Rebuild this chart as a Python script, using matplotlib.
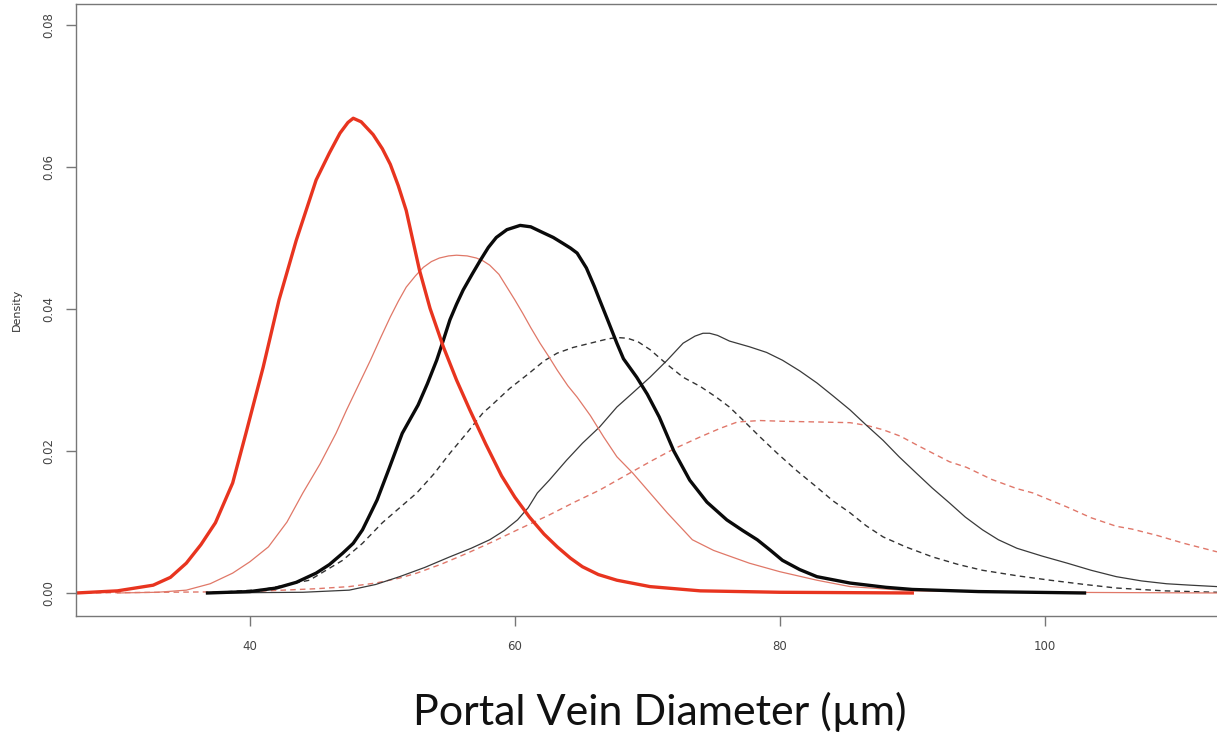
import numpy as np
import matplotlib.pyplot as plt

# Density curves (x in um, y density)
red_thick_x = [26.9, 30.0, 32.7, 34.0, 35.2, 36.3, 37.4, 38.7, 39.7, 41.0, 42.2, 43.5, 45.0,
               46.0, 46.8, 47.4, 47.8, 48.4, 49.3, 50.0, 50.6, 51.2, 51.8, 52.8, 53.6, 54.6,
               55.6, 56.6, 57.8, 59.0, 60.0, 61.1, 62.2, 63.2, 64.2, 65.1, 66.3, 67.7, 70.2,
               74.0, 80.0, 90.0]
red_thick_y = [0.0, 0.0003, 0.0011, 0.0022, 0.0042, 0.0068, 0.0099, 0.0155, 0.0225, 0.0318,
               0.0413, 0.0497, 0.0582, 0.0620, 0.0648, 0.0663, 0.0669, 0.0664, 0.0646, 0.0626,
               0.0604, 0.0574, 0.0539, 0.0455, 0.0401, 0.0347, 0.0300, 0.0258, 0.0210, 0.0165,
               0.0135, 0.0107, 0.0083, 0.0065, 0.0049, 0.0037, 0.0026, 0.0018, 0.0009, 0.0003,
               0.0001, 0.0]

red_thin_x = [30.0, 33.0, 35.2, 37.0, 38.7, 40.0, 41.4, 42.8, 44.0, 45.3, 46.5, 47.3, 48.2,
              49.1, 49.9, 50.6, 51.2, 51.8, 52.5, 53.1, 53.7, 54.3, 55.0, 55.6, 56.4, 57.1,
              57.6, 58.1, 58.8, 59.4, 60.0, 60.6, 61.2, 61.9, 62.6, 63.2, 64.0, 64.7, 65.7,
              66.7, 67.7, 68.9, 70.2, 71.5, 72.5, 73.4, 75.0, 77.7, 80.0, 82.8, 85.3, 90.0,
              100.0, 113.0]
red_thin_y = [0.0, 0.0001, 0.0004, 0.0013, 0.0028, 0.0044, 0.0065, 0.0100, 0.0141, 0.0182,
              0.0225, 0.0258, 0.0293, 0.0328, 0.0361, 0.0389, 0.0411, 0.0431, 0.0447, 0.0459,
              0.0467, 0.0472, 0.0475, 0.0476, 0.0475, 0.0472, 0.0468, 0.0462, 0.0449, 0.0431,
              0.0413, 0.0394, 0.0374, 0.0352, 0.0332, 0.0314, 0.0292, 0.0276, 0.0250, 0.0220,
              0.0192, 0.0169, 0.0141, 0.0113, 0.0093, 0.0075, 0.0060, 0.0042, 0.0030, 0.0018,
              0.0009, 0.0003, 0.0001, 0.0]

black_thick_x = [36.8, 40.0, 42.0, 43.5, 45.0, 46.0, 47.0, 47.8, 48.5, 49.0, 49.6, 50.5,
                 51.5, 52.1, 52.7, 53.4, 54.1, 54.6, 55.1, 55.6, 56.1, 56.8, 57.4, 58.0, 58.6,
                 59.4, 60.4, 61.2, 62.1, 62.9, 63.6, 64.2, 64.7, 65.4, 66.0, 66.4, 67.0,
                 67.7, 68.2, 69.2, 70.0, 70.9, 72.0, 73.2, 74.5, 76.0, 77.2, 78.3, 79.3, 80.2,
                 81.5, 82.8, 85.3, 88.0, 90.0, 95.0, 103.0]
black_thick_y = [0.0, 0.0002, 0.0007, 0.0015, 0.0028, 0.0040, 0.0056, 0.0070, 0.0089, 0.0108,
                 0.0131, 0.0175, 0.0225, 0.0245, 0.0265, 0.0295, 0.0328, 0.0356, 0.0385, 0.0407,
                 0.0427, 0.0450, 0.0469, 0.0487, 0.0501, 0.0512, 0.0518, 0.0516, 0.0508, 0.0501,
                 0.0493, 0.0486, 0.0479, 0.0458, 0.0432, 0.0413, 0.0385,
                 0.0352, 0.0330, 0.0304, 0.0280, 0.0248, 0.0200, 0.0159, 0.0128, 0.0103, 0.0088,
                 0.0075, 0.0060, 0.0046, 0.0033, 0.0023, 0.0014, 0.0008, 0.0005, 0.0002, 0.0]

black_dash_x = [36.8, 41.0, 44.5, 47.0, 48.5, 50.0, 51.3, 52.6, 53.9, 55.1, 56.4, 57.6, 58.1,
                59.6, 61.1, 62.2, 63.2, 64.4, 65.7, 67.0, 67.7, 68.5, 69.3, 70.2, 71.5, 72.7,
                74.0, 75.2, 76.2, 77.2, 78.5, 79.8, 81.3, 82.8, 84.0, 85.3, 86.5, 87.8, 89.5,
                91.5, 93.5, 95.3, 98.0, 100.4, 103.0, 105.4, 109.0, 113.0]
black_dash_y = [0.0, 0.0005, 0.0018, 0.0046, 0.0070, 0.0099, 0.0120, 0.0141, 0.0168, 0.0197,
                0.0226, 0.0254, 0.0262, 0.0288, 0.0310, 0.0327, 0.0338, 0.0346, 0.0352, 0.0358,
                0.0360, 0.0359, 0.0354, 0.0343, 0.0322, 0.0304, 0.0291, 0.0276, 0.0262, 0.0244,
                0.0220, 0.0197, 0.0172, 0.0149, 0.0130, 0.0113, 0.0095, 0.0079, 0.0065, 0.0051,
                0.0040, 0.0032, 0.0024, 0.0018, 0.0012, 0.0007, 0.0003, 0.0001]

black_thin_x = [37.0, 44.0, 47.5, 49.5, 51.3, 53.2, 55.1, 56.7, 58.1, 59.2, 60.2, 61.0, 61.7,
                62.6, 63.9, 65.1, 66.4, 67.7, 68.9, 70.2, 71.5, 72.7, 73.6, 74.2, 74.7, 75.3,
                76.2, 77.7, 79.0, 80.2, 81.5, 82.8, 84.0, 85.3, 86.5, 87.8, 89.0, 90.3, 91.5,
                92.8, 94.0, 95.3, 96.5, 97.9, 99.8, 101.7, 103.5, 105.4, 107.3, 109.2, 111.0,
                113.0]
black_thin_y = [0.0, 0.0001, 0.0004, 0.0012, 0.0023, 0.0036, 0.0051, 0.0063, 0.0075, 0.0088,
                0.0103, 0.0120, 0.0141, 0.0159, 0.0187, 0.0211, 0.0234, 0.0262, 0.0282, 0.0304,
                0.0328, 0.0352, 0.0362, 0.0366, 0.0366, 0.0363, 0.0355, 0.0347, 0.0339, 0.0328,
                0.0313, 0.0296, 0.0278, 0.0258, 0.0237, 0.0215, 0.0192, 0.0169, 0.0148, 0.0127,
                0.0107, 0.0089, 0.0075, 0.0063, 0.0052, 0.0042, 0.0032, 0.0023, 0.0017, 0.0013,
                0.0011, 0.0009]

red_dash_x = [26.9, 40.0, 45.0, 47.5, 49.5, 51.3, 52.6, 54.5, 56.4, 58.3, 60.2, 62.6, 64.5,
              66.4, 68.3, 70.2, 72.0, 74.0, 75.5, 76.8, 78.5, 80.2, 82.8, 85.3, 86.6, 87.8,
              89.1, 90.5, 92.8, 94.1, 96.0, 97.9, 99.1, 100.4, 101.7, 103.5, 105.4, 106.6,
              108.5, 110.5, 113.0]
red_dash_y = [0.0, 0.0002, 0.0006, 0.0009, 0.0014, 0.0021, 0.0028, 0.0041, 0.0056, 0.0072,
              0.0089, 0.0110, 0.0128, 0.0145, 0.0165, 0.0185, 0.0203, 0.0220, 0.0232, 0.0241,
              0.0243, 0.0242, 0.0241, 0.0240, 0.0236, 0.0230, 0.0221, 0.0207, 0.0185, 0.0177,
              0.0160, 0.0147, 0.0141, 0.0131, 0.0121, 0.0106, 0.0094, 0.0090, 0.0081, 0.0070,
              0.0058]

x_ticks = [40, 60, 80, 100]
y_ticks = [0.00, 0.02, 0.04, 0.06, 0.08]

fig = plt.figure(figsize=(12.17, 7.40), dpi=100)
ax = fig.add_axes([0.0624, 0.1676, 0.9376, 0.827])

ax.plot(red_dash_x, red_dash_y, color='#e0776a', lw=1.0, ls=(0, (4, 3)))
ax.plot(black_thin_x, black_thin_y, color='#3a3a3a', lw=0.9)
ax.plot(black_dash_x, black_dash_y, color='#333333', lw=1.0, ls=(0, (4, 3)))
ax.plot(red_thin_x, red_thin_y, color='#e07868', lw=0.9)
ax.plot(black_thick_x, black_thick_y, color='#0a0a0a', lw=2.4)
ax.plot(red_thick_x, red_thick_y, color='#e8341f', lw=2.4)

ax.set_xlim(26.87, 113.0)
ax.set_ylim(-0.00324, 0.0830)

for side in ['left', 'top', 'bottom']:
    ax.spines[side].set_color('#777777')
    ax.spines[side].set_linewidth(1.0)
ax.spines['right'].set_visible(False)

ax.set_xticks(x_ticks)
ax.set_xticklabels([str(t) for t in x_ticks])
ax.set_yticks(y_ticks)
ax.set_yticklabels(['%.2f' % t for t in y_ticks], rotation=90, va='center')
ax.tick_params(axis='both', colors='#777777', labelcolor='#444444', labelsize=8.5,
               length=7, width=1.0, pad=8)
ax.tick_params(axis='x', pad=10)

fig.text(0.014, 0.581, 'Density', rotation=90, ha='center', va='center',
         fontsize=8, color='#333333')
fig.text(0.542, 0.038, 'Portal Vein Diameter (\u00b5m)', ha='center', va='center',
         fontsize=31, family=['Lato', 'DejaVu Sans'], color='#111111')

fig.savefig('out.png', dpi=100)
